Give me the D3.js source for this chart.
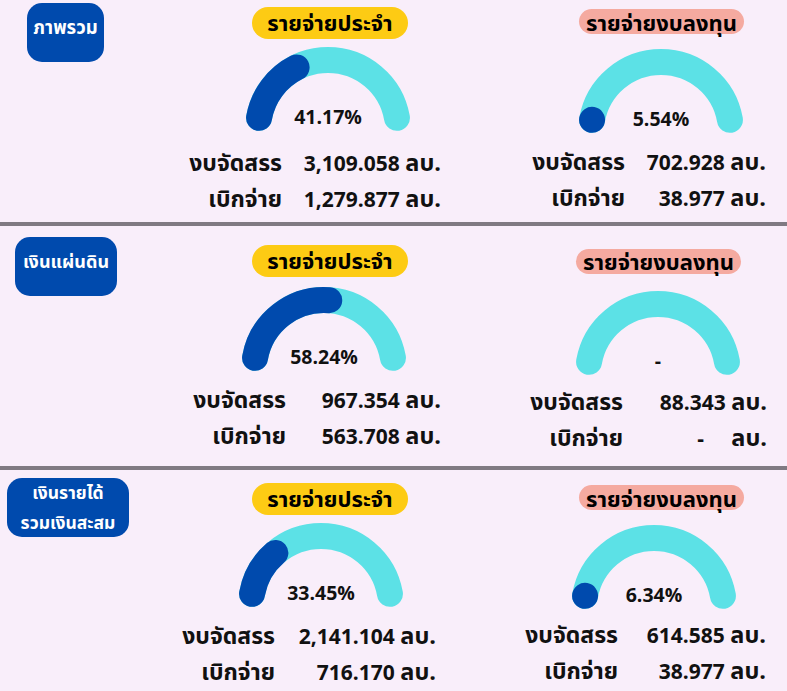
<!DOCTYPE html>
<html>
<head>
<meta charset="utf-8">
<script src="https://cdn.jsdelivr.net/npm/d3@7"></script>
<style>
  body { margin: 0; background: #f9eefa; }
  svg { display: block; }
  text { font-family: "Noto Sans Thai", "Noto Sans", sans-serif; font-weight: bold; }
</style>
</head>
<body>
<div id="chart"></div>
<script>
// budget groups and expense types
const groups = [['ภาพรวม'], ['เงินแผ่นดิน'], ['เงินรายได้', 'รวมเงินสะสม']]
const types = ['รายจ่ายประจำ', 'รายจ่ายงบลงทุน']

// values in million baht (ลบ.), one row per group: [ประจำ, งบลงทุน]
const budget = [[3109.058, 702.928], [967.354, 88.343], [2141.104, 614.585]]
const spent = [[1279.877, 38.977], [563.708, null], [716.170, 38.977]]
const percent = [[41.17, 5.54], [58.24, null], [33.45, 6.34]]

const rowLabels = ['งบจัดสรร', 'เบิกจ่าย']
const unit = 'ลบ.'

const width = 787
const height = 691

const svg = d3.select('#chart')
    .append('svg')
    .attr('width', width)
    .attr('height', height)

svg.append('rect')
    .attr('width', width)
    .attr('height', height)
    .attr('fill', '#f9eefa')

// vertical offset of each panel
const yPanel = d3.scaleLinear().domain([0, 2]).range([0, 476])

// layout, the panels in the picture are not perfectly aligned
const boxes = [
    {x: 27, y: 3, w: 77, h: 59, size: 18.5},
    {x: 15, y: 237, w: 102, h: 59, size: 18},
    {x: 7, y: 478, w: 122, h: 59, size: 17.5}
]
const gaugeX = [[328, 661], [324, 658], [321, 654]]
const gaugeY = [[130, 132], [370, 374], [606, 608]]
const labelX = [[282, 625], [286, 623], [275, 618]]
const valueX = [[441, 766], [441, 767], [436, 766]]
const rowY = [[171, 170], [408, 410], [644, 643]]

// gauge geometry
const R = 70
const thick = 26
const sweep = 80 * Math.PI / 180
const trackLen = R * 2 * sweep + thick

// visible length of the blue part (caps included) for a percentage
const fillLen = d3.scaleLinear()
    .domain([0, 100])
    .range([0, trackLen])

// angle measured from the top, clockwise
const arcPath = (a0, a1) => {
    const p = d3.path()
    p.arc(0, 0, R, a0 - Math.PI / 2, a1 - Math.PI / 2, false)
    return p.toString()
}

const fmt = d3.format(',.3f')

// separator lines
svg.selectAll('.sep')
    .data([224, 468])
    .enter()
    .append('rect')
    .attr('class', 'sep')
    .attr('x', 0)
    .attr('y', d => d - 2)
    .attr('width', width)
    .attr('height', 4)
    .attr('fill', '#807a82')

groups.forEach((g, i) => {
    const oy = yPanel(i)

    // group label box
    const b = boxes[i]
    svg.append('rect')
        .attr('x', b.x).attr('y', b.y)
        .attr('width', b.w).attr('height', b.h)
        .attr('rx', 15)
        .attr('fill', '#004aad')
    g.forEach((line, k) => {
        svg.append('text')
            .attr('x', b.x + b.w / 2)
            .attr('y', g.length === 1 ? b.y + 31 : b.y + 21 + k * 30)
            .attr('text-anchor', 'middle')
            .attr('fill', '#ffffff')
            .attr('font-size', b.size)
            .text(line)
    })

    types.forEach((t, j) => {
        const cx = gaugeX[i][j]
        const cy = gaugeY[i][j]

        // pill title
        const pill = j === 0
            ? {x: 252, y: 7 + oy, w: 156, h: 32, fill: '#fdcb14'}
            : {x: 579 + (i === 1 ? -3 : 0), y: 9 + oy + (i === 1 ? 2 : 0), w: 165, h: 25, fill: '#f5aaa0'}
        svg.append('rect')
            .attr('x', pill.x).attr('y', pill.y)
            .attr('width', pill.w).attr('height', pill.h)
            .attr('rx', pill.h / 2)
            .attr('fill', pill.fill)
        svg.append('text')
            .attr('x', pill.x + pill.w / 2)
            .attr('y', 31 + oy + (j === 1 && i === 1 ? 1 : 0))
            .attr('text-anchor', 'middle')
            .attr('font-size', 22)
            .attr('fill', '#000')
            .text(t)

        // gauge
        const gauge = svg.append('g')
            .attr('transform', `translate(${cx},${cy})`)
        gauge.append('path')
            .attr('d', arcPath(-sweep, sweep))
            .attr('fill', 'none')
            .attr('stroke', '#5ce1e6')
            .attr('stroke-width', thick)
            .attr('stroke-linecap', 'round')

        const p = percent[i][j]
        if (p !== null) {
            const len = Math.max(0.01, fillLen(p) - thick)
            gauge.append('path')
                .attr('d', arcPath(-sweep, -sweep + len / R))
                .attr('fill', 'none')
                .attr('stroke', '#004aad')
                .attr('stroke-width', thick)
                .attr('stroke-linecap', 'round')
        }
        gauge.append('text')
            .attr('x', 0)
            .attr('y', -6)
            .attr('text-anchor', 'middle')
            .attr('font-size', 19.5)
            .attr('fill', '#111')
            .text(p === null ? '-' : p.toFixed(2) + '%')

        // budget / spent rows
        const vals = [budget[i][j], spent[i][j]]
        rowLabels.forEach((lab, k) => {
            const y = rowY[i][j] + k * 36
            svg.append('text')
                .attr('x', labelX[i][j])
                .attr('y', y)
                .attr('text-anchor', 'end')
                .attr('font-size', 23)
                .attr('fill', '#111')
                .text(lab)
            const v = svg.append('text')
                .attr('x', valueX[i][j])
                .attr('y', y)
                .attr('text-anchor', 'end')
                .attr('font-size', 21)
                .attr('fill', '#111')
                .attr('xml:space', 'preserve')
            v.append('tspan')
                .text(vals[k] === null ? '-     ' : fmt(vals[k]) + ' ')
            v.append('tspan')
                .attr('font-size', 23.5)
                .text(unit)
        })
    })
})
</script>
</body>
</html>
